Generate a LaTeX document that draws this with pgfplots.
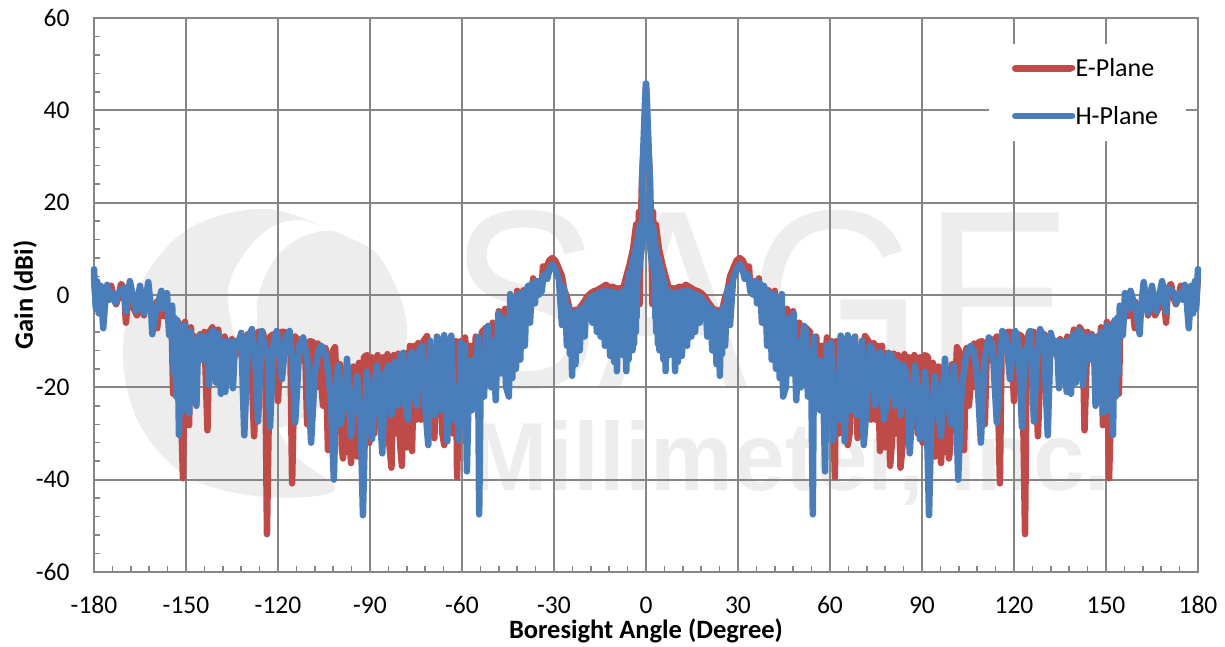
\documentclass[border=0pt]{standalone}
\usepackage{fontspec}
\setmainfont{Carlito}
\newfontfamily\wm{Liberation Sans}
\usepackage{pgfplots}
\usepackage{pgfplotstable}
\pgfplotsset{compat=1.18}
\definecolor{gridc}{HTML}{868686}
\definecolor{redl}{HTML}{BE4B48}
\definecolor{bluel}{HTML}{4A7EBB}
\definecolor{wmc}{HTML}{EDEDED}
% Left half of each pattern, angle and gain; the pattern is mirrored about 0.
\pgfplotstableread[row sep=\\]{
x y\\
-180 4\\ -179.4 -2\\ -178.8 2\\ -178 -3\\ -177.2 -1\\ -176 1\\ -175.2 -1\\ -174.4 2\\ -173.6 -0.5\\ -172.8 -2\\
-172 -0.5\\ -171.2 2.4\\ -170.2 1.5\\ -169.6 -6\\ -168.8 0\\ -168 1.5\\ -167 -3\\ -166 -4.4\\ -165 0\\ -164.2 -3\\
-163.7 -4.4\\ -162.6 1\\ -162 -1\\ -161 -5\\ -160.2 -3\\ -159.6 -1.5\\ -159.4 -7.2\\ -158.4 -1\\ -157.2 -4.6\\ -156.4 -1\\
-155.6 -6\\ -154.8 -2.5\\ -154.2 -21.4\\ -153.5 -6\\ -153 -20\\ -152.4 -6\\ -151.8 -20\\ -151 -39.7\\ -150.3 -5.8\\ -149.6 -26\\
-149 -28.2\\ -148.4 -7\\ -147.6 -15\\ -147 -9\\ -146 -13\\ -145.4 -8.5\\ -144.6 -14\\ -144 -8\\ -143 -29.3\\ -142.4 -8\\
-141.4 -7\\ -140.4 -14\\ -139.5 -7.5\\ -138.4 -15\\ -137.4 -9\\ -136.6 -19\\ -135.5 -10\\ -135 -9.5\\ -133.8 -13\\ -133 -10\\
-132 -9\\ -131 -14\\ -130 -8.5\\ -129 -9\\ -127.8 -30.6\\ -126.5 -8\\ -125 -8\\ -124.2 -10\\ -123.6 -51.8\\ -122.6 -9\\
-121.4 -8.5\\ -120 -23\\ -119 -8\\ -118 -8\\ -117 -8.5\\ -116 -9\\ -115.4 -40.8\\ -114.4 -9\\ -113.4 -10\\ -112.2 -9.5\\
-111 -15\\ -110.5 -28\\ -109.6 -10\\ -108.6 -10.2\\ -107.6 -20\\ -107 -10.5\\ -105.3 -24\\ -104.5 -11.5\\ -103.7 -33.6\\ -102.8 -13\\
-101.4 -11.3\\ -100.4 -29\\ -99.8 -15\\ -99.2 -33\\ -98.8 -35.4\\ -98 -16\\ -97.4 -34\\ -96.8 -28\\ -96.2 -36.4\\ -95.4 -15.5\\ -94.6 -33\\ -94.2 -35\\
-93.6 -14.7\\ -92.8 -35\\ -92 -13.5\\ -91 -13\\ -90.2 -32\\ -89.4 -13.5\\ -88.6 -30\\ -87.5 -13\\ -86.6 -28\\ -85.8 -13.5\\
-85 -32\\ -84.3 -12.8\\ -83.6 -33\\ -83 -37.4\\ -82.2 -13\\ -81.4 -30\\ -80.8 -12.7\\ -80.2 -32\\ -79.6 -37\\ -79 -12.5\\ -78 -33\\ -77 -11\\
-76.3 -33.8\\ -75.5 -11\\ -74.8 -27\\ -74.3 -10.4\\ -73.4 -27\\ -72.6 -10\\ -71.4 -8.9\\ -71 -22\\ -70 -25\\ -69 -31\\
-68.2 -9\\ -67 -20\\ -66.4 -30\\ -65.8 -32.5\\ -65 -10\\ -64 -20\\ -63 -30\\ -62 -10\\ -61.6 -39.5\\ -60.5 -10\\
-59.6 -25\\ -59 -9.2\\ -58 -20\\ -57.4 -11\\ -56.5 -22\\ -55.5 -9\\ -54.5 -20\\ -53.5 -8\\ -52 -7\\ -51 -15\\
-50 -6\\ -49 -18\\ -48 -3.5\\ -47 -15\\ -46 -3\\ -45 -15\\ -44 -1\\ -43 -10\\ -42 0.9\\ -41 -8\\
-40 1\\ -39 -5\\ -38 2\\ -37 0\\ -36.8 3.6\\ -36 0\\ -35 3\\ -34 1.5\\ -33.6 6.2\\ -32.5 6\\
-31.5 7.5\\ -30.6 8\\ -29.6 7.5\\ -28.6 6\\ -27.4 4\\ -26.6 1\\ -25.8 -0.5\\ -25 -2.8\\ -24.1 -4\\ -23 -3.2\\
-22 -3.2\\ -21 -2.2\\ -20.4 -1.7\\ -19.2 -0.4\\ -18 0.4\\ -17 0.8\\ -16 1\\ -15 1.4\\ -14 1.8\\ -13 2.2\\
-12 1.6\\ -11 1.8\\ -10 1.5\\ -9 1.3\\ -8.5 1.5\\ -7.5 1.3\\ -6.8 3\\ -5.3 6.7\\ -4.2 10\\ -3.2 15.3\\
-3 -1\\ -2.3 18\\ -2.1 -2\\ -1.9 8\\ -1.35 24\\ -1 29\\ -0.5 34\\ 0 45\\
}\redT
\pgfplotstableread[row sep=\\]{
x y\\
-180 5.6\\ -179.4 -3\\ -179 3\\ -178.4 -4\\ -177.8 2\\ -177 -7.2\\ -176.4 -2\\ -175.7 2.2\\ -175 -1\\ -174.2 0.5\\
-173 -1.7\\ -172 0.5\\ -171 1.2\\ -170.2 1.5\\ -169.6 -3.6\\ -168.3 3\\ -167.4 0\\ -166.3 -3.5\\ -165 2\\ -163.7 -4\\
-162.3 2.8\\ -161.4 -3\\ -161 -8.5\\ -160 -4\\ -158.8 -1\\ -158 0.9\\ -157.4 -3\\ -156.2 0.4\\ -155.5 -8.7\\ -154.5 -2.3\\
-154 -17\\ -153.6 -5\\ -153.2 -22\\ -152.8 -5.5\\ -152.3 -30.3\\ -151.6 -7\\ -151 -25\\ -150.3 -6.5\\ -149.6 -25\\ -149 -25.6\\
-148.4 -8\\ -147.8 -23\\ -147.2 -10\\ -146.6 -24\\ -146 -9\\ -145.2 -14\\ -145 -8.8\\ -144.2 -14\\ -143.4 -9\\ -142.5 -19.5\\
-141.7 -8\\ -141 -7.7\\ -140.2 -19\\ -139.4 -8.5\\ -138.6 -21.4\\ -137.8 -10\\ -137.2 -21\\ -136 -10\\ -135.4 -12\\ -134.7 -20.2\\
-134 -10\\ -133 -11\\ -132 -8.2\\ -131 -30.4\\ -129.7 -9\\ -128.5 -7.4\\ -127.4 -14\\ -126.5 -27.4\\ -125.3 -7.8\\ -124.2 -12\\
-123.4 -12\\ -122.6 -28.6\\ -121.4 -10\\ -120.4 -7.8\\ -119.4 -13\\ -118.7 -18.2\\ -117.4 -9\\ -116.2 -7.8\\ -115.2 -16\\ -114.4 -27.6\\
-113 -11\\ -111.8 -9.2\\ -110.4 -14\\ -109.2 -32\\ -108 -17\\ -106.8 -12\\ -105.8 -11\\ -104.4 -13\\ -103.6 -17\\ -102.8 -22\\
-101.8 -40\\ -101 -20\\ -100.4 -15.3\\ -99.6 -28\\ -98.6 -24\\ -97.5 -13.8\\ -96.8 -22\\ -96.2 -30.6\\ -95 -22\\ -94.2 -17.6\\
-93 -28\\ -92.3 -47.7\\ -91.5 -25\\ -91 -16.6\\ -90.2 -25\\ -89.3 -31.2\\ -88.5 -20\\ -87.7 -15.3\\ -86.8 -25\\ -86 -34.3\\
-85 -17\\ -84 -15.3\\ -83 -26\\ -82 -14.5\\ -81 -24\\ -80 -13\\ -79.2 -12.6\\ -78.4 -24\\ -77.6 -27\\ -76.8 -13\\
-76.3 -12.4\\ -75.4 -22\\ -74.7 -24\\ -74 -12\\ -73 -11\\ -72 -24\\ -71 -32.5\\ -70.4 -9.9\\ -69.6 -24\\ -68.8 -26\\
-68 -9.1\\ -67 -25\\ -66.4 -22\\ -65.8 -8.7\\ -64.8 -31.7\\ -64 -12\\ -63.5 -8.8\\ -62.6 -27\\ -62 -20\\ -61 -31.5\\
-60.4 -10.3\\ -59.6 -28\\ -59 -11\\ -58.4 -38.2\\ -57.6 -14.3\\ -56.8 -25\\ -56 -14\\ -55.4 -22\\ -54.8 -9.1\\ -54.4 -47.5\\
-53.8 -12\\ -52.8 -22\\ -52.2 -8\\ -51.5 -6.7\\ -50.5 -20\\ -49.8 -10\\ -49 -22.8\\ -48.2 -4\\ -47.4 -17\\ -46.6 -5\\
-45.6 -20\\ -44.7 -22\\ -44.3 0.2\\ -43.6 -18\\ -43 -1\\ -42.4 -16\\ -41.8 0.2\\ -41 -14\\ -40.4 0.5\\ -39.5 -11\\
-38.9 1.2\\ -38.4 2\\ -37.8 -6\\ -37.2 2.5\\ -36.2 -1.8\\ -35.8 3\\ -35 0\\ -34 0.8\\ -33.5 4\\ -33 4.5\\
-32.2 3.5\\ -31.5 5.5\\ -30.6 6.7\\ -29.4 5.2\\ -28.4 3.4\\ -27.4 -6.5\\ -27 1.8\\ -26.4 0.4\\ -25.8 -11\\ -25.2 -2.6\\
-24.8 -12.8\\ -24.4 -3.8\\ -24.1 -17.5\\ -23.6 -4\\ -23 -15\\ -22.5 -3.5\\ -21.6 -12\\ -21 -2.8\\ -20 -9\\ -19.4 -1.6\\
-18.9 -5\\ -18 -0.4\\ -17.5 -6\\ -16.8 0\\ -16 -8\\ -15.4 0.5\\ -14.8 -9\\ -14 0.8\\ -13.4 -11\\ -12.7 0.9\\
-11.7 -13.2\\ -11 0.7\\ -10.4 -14.5\\ -9.8 0.3\\ -9.5 -16.5\\ -8.8 0.5\\ -8.4 -10\\ -8 0.5\\ -7.6 -13\\ -7.2 0.7\\
-6.8 1.2\\ -6.4 -16.5\\ -6 2.8\\ -5.7 -14\\ -5.4 4.8\\ -5 -12\\ -4.7 6.4\\ -4.4 -12\\ -4.2 8\\ -3.9 -10.6\\
-3.5 9.8\\ -3.3 -8\\ -3 11.5\\ -3.1 -5\\ -2.5 14\\ -2.8 3\\ -2 15.3\\ -2.1 6\\ -1.1 12\\ -1.25 25\\
-0.3 42\\ 0 45.8\\
}\blueT
\begin{document}
\begin{tikzpicture}[x=1pt,y=1pt]
\path[use as bounding box] (0,0) rectangle (1225,646);
% watermark (pixel coordinates, y down)
\begin{scope}[yshift=646pt,y=-1pt]
\fill[wmc] plot[smooth cycle,tension=0.6] coordinates {(337,233)(300,220)(267,230)(240,260)(228,293)(237,343)(263,403)(295,455)(335,490)(267,497)(190,478)(140,425)(123,353)(140,285)(190,228)(267,209)};
\fill[wmc] plot[smooth cycle,tension=0.7] coordinates {(317,232)(280,253)(260,290)(257,320)(258,357)(272,425)(323,407)(380,387)(407,335)(385,265)(350,238)};
\node[anchor=south west,inner sep=0pt,text=wmc] at (449,390) {\resizebox{623pt}{177pt}{\wm SAGE}};
\node[anchor=base west,inner sep=0pt,text=wmc] at (470,490) {\resizebox{640pt}{70pt}{\wm\bfseries Millimeter, Inc.}};
\end{scope}
\begin{axis}[
  at={(94pt,74pt)},anchor=south west,
  scale only axis,width=1104pt,height=554pt,
  xmin=-180,xmax=180,ymin=-60,ymax=60,
  xtick={-180,-150,...,180},ytick={-60,-40,...,60},
  minor x tick num=4,minor y tick num=4,
  xtick pos=bottom,ytick pos=left,
  tick align=inside,major tick length=0pt,minor tick length=6pt,
  tick style={gridc,line width=1.5pt},
  grid=major,grid style={gridc,line width=1.8pt},
  axis line style={gridc,line width=2.2pt},
  clip=false,
  tick label style={font=\fontsize{25.5}{28}\selectfont},
  /pgf/number format/assume math mode=true,
  xticklabel style={yshift=-21pt},
  yticklabel style={xshift=-21pt},
  xlabel={\textbf{Boresight Angle (Degree)}},
  ylabel={\textbf{Gain (dBi)}},
  xlabel style={at={(axis description cs:0.5,0)},anchor=center,yshift=-59pt,font=\fontsize{26.5}{28}\selectfont},
  ylabel style={at={(axis description cs:0,0.5)},anchor=center,yshift=69pt,font=\fontsize{26.5}{28}\selectfont},
  every axis plot/.append style={line width=6.5pt,line join=round,line cap=round,no markers},
  legend image code/.code={\path (0pt,0pt) -- (55pt,0pt);\draw[#1,line width=6pt,overlay] (2pt,0pt) -- (57pt,0pt);},
  legend style={at={(axis cs:119.3,51.7)},anchor=north west,draw=none,fill=none,inner sep=0pt,
    font=\fontsize{26}{28}\selectfont,row sep=24pt},
  legend cell align=left,
]
\fill[white] (axis cs:111.85,33.4) rectangle (axis cs:176.1,54.4);
\addplot[redl] table[x=x,y=y] {\redT};
\addlegendentry{E-Plane}
\addplot[redl,forget plot] table[x expr=-\thisrow{x},y=y] {\redT};
\addplot[bluel] table[x=x,y=y] {\blueT};
\addlegendentry{H-Plane}
\addplot[bluel,forget plot] table[x expr=-\thisrow{x},y=y] {\blueT};
\end{axis}
\end{tikzpicture}
\end{document}
